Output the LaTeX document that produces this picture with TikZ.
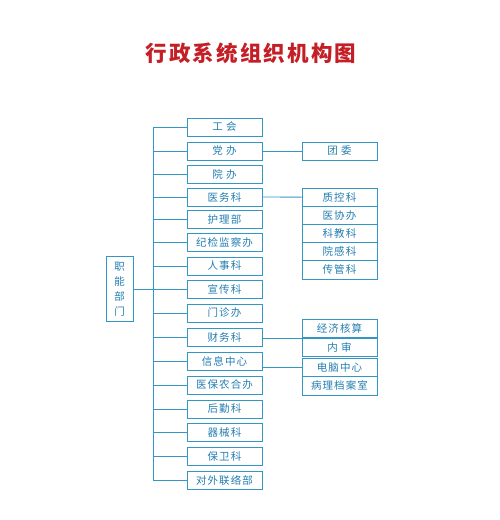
\documentclass[tikz,border=0pt]{standalone}
\usepackage{fontspec}
\setmainfont[LetterSpace=10]{Noto Sans CJK SC}
\usetikzlibrary{positioning}
\definecolor{lineblue}{RGB}{52,150,196}
\definecolor{textblue}{RGB}{35,125,175}
\definecolor{titlered}{RGB}{196,30,38}

\begin{document}
\begin{tikzpicture}[x=1pt, y=-1pt, align=center, font=\fontsize{10.5}{15}\selectfont, line width=0.9pt,
  unit/.style={draw=lineblue, text=textblue, minimum width=75pt, minimum height=18pt, inner sep=0pt},
  sub/.style={unit, minimum height=18.3pt},
  link/.style={draw=lineblue}]

\useasboundingbox (0,0) rectangle (500,520);

% Title
\node[text=titlered, font=\fontsize{21.5}{24}\selectfont\bfseries] (title) at (251,53) {行政系统组织机构图};

% Root
\node[draw=lineblue, text=textblue, minimum width=27pt, minimum height=65pt, inner sep=0pt] (zhineng) at (119.5,289) {职\\能\\部\\门};

% Departments
\node[unit] (gonghui) at (224.5,127) {工 会};
\node[unit] (dangban) at (224.5,151) {党 办};
\node[unit] (yuanban) at (224.5,174) {院 办};
\node[unit] (yiwu) at (224.5,197) {医务科};
\node[unit] (huli) at (224.5,219) {护理部};
\node[unit] (jijian) at (224.5,242.5) {纪检监察办};
\node[unit] (renshi) at (224.5,266) {人事科};
\node[unit] (xuanchuan) at (224.5,289) {宣传科};
\node[unit] (menzhen) at (224.5,313) {门诊办};
\node[unit] (caiwu) at (224.5,337) {财务科};
\node[unit] (xinxi) at (224.5,361) {信息中心};
\node[unit] (yibao) at (224.5,385) {医保农合办};
\node[unit] (houqin) at (224.5,409) {后勤科};
\node[unit] (qixie) at (224.5,432.5) {器械科};
\node[unit] (baowei) at (224.5,456) {保卫科};
\node[unit] (duiwai) at (224.5,480) {对外联络部};

% Sub units
\node[unit] (tuanwei) at (339.5,151) {团 委};
\node[sub] (zhikong) at (339.5,197.1) {质控科};
\node[sub] (yixie) at (339.5,215.3) {医协办};
\node[sub] (kejiao) at (339.5,233.5) {科教科};
\node[sub] (yuangan) at (339.5,251.7) {院感科};
\node[sub] (chuanguan) at (339.5,269.9) {传管科};
\node[sub] (jingji) at (339.5,328.6) {经济核算};
\node[sub] (neishen) at (339.5,347.1) {内 审};
\node[sub] (diannao) at (339.5,367.3) {电脑中心};
\node[sub] (bingli) at (339.5,385.8) {病理档案室};

% Trunk
\coordinate (trunk) at (153,0);
\draw[link] (zhineng.east) -- (xuanchuan.west);
\draw[link] (gonghui.west) -- (gonghui.west -| trunk) -- (duiwai.west -| trunk) -- (duiwai.west);
\draw[link] (dangban.west -| trunk) -- (dangban.west);
\draw[link] (yuanban.west -| trunk) -- (yuanban.west);
\draw[link] (yiwu.west -| trunk) -- (yiwu.west);
\draw[link] (huli.west -| trunk) -- (huli.west);
\draw[link] (jijian.west -| trunk) -- (jijian.west);
\draw[link] (renshi.west -| trunk) -- (renshi.west);
\draw[link] (menzhen.west -| trunk) -- (menzhen.west);
\draw[link] (caiwu.west -| trunk) -- (caiwu.west);
\draw[link] (xinxi.west -| trunk) -- (xinxi.west);
\draw[link] (yibao.west -| trunk) -- (yibao.west);
\draw[link] (houqin.west -| trunk) -- (houqin.west);
\draw[link] (qixie.west -| trunk) -- (qixie.west);
\draw[link] (baowei.west -| trunk) -- (baowei.west);

% Links to sub units
\draw[link] (dangban) -- (tuanwei);
\draw[link] (yiwu.east) -- (zhikong.west);
\draw[link] (caiwu.east |- jingji.south west) -- (jingji.south west);
\draw[link] (xinxi.east |- diannao.west) -- (diannao.west);

\end{tikzpicture}
\end{document}
